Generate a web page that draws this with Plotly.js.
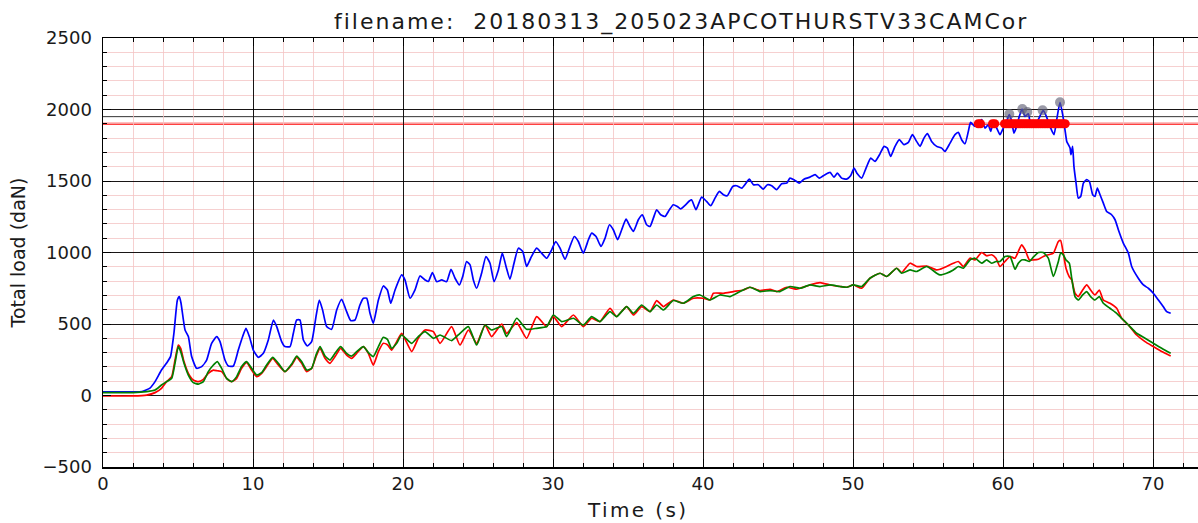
<!DOCTYPE html>
<html>
<head>
<meta charset="utf-8">
<script src="https://cdn.plot.ly/plotly-3.0.1.min.js"></script>
<style>
html, body { margin: 0; padding: 0; background: #ffffff; overflow: hidden; }
#chart { width: 1198px; height: 523px; }
.gtitle { letter-spacing: 2.0px; }
.annotation-text { letter-spacing: 2.4px; }
</style>
</head>
<body>
<div id="chart"></div>
<script>
// ---- data ----
const chartTitle = "filename:\u00a0\u00a020180313_205023APCOTHURSTV33CAMCor";
const xLabel = "Time (s)";
const yLabel = "Total load (daN)";

const blueTime = [0, 1.0, 2.0, 2.6, 3.13, 3.47, 3.9, 4.24, 4.5, 4.73, 4.96, 5.09, 5.2, 5.47, 5.69, 5.91, 6.24, 6.58, 6.91, 7.24, 7.58, 7.8, 8.13, 8.36, 8.69, 9.02, 9.31, 9.53, 9.76, 10.02, 10.36, 10.69, 11.02, 11.36, 11.58, 11.91, 12.13, 12.47, 12.69, 12.91, 13.13, 13.36, 13.62, 13.91, 14.2, 14.42, 14.64, 14.91, 15.24, 15.58, 15.91, 16.2, 16.51, 16.8, 17.13, 17.36, 17.58, 17.8, 18.02, 18.36, 18.69, 18.96, 19.18, 19.47, 19.91, 20.13, 20.47, 20.8, 21.13, 21.47, 21.69, 21.96, 22.24, 22.58, 22.91, 23.2, 23.47, 23.76, 23.98, 24.24, 24.47, 24.69, 24.91, 25.24, 25.53, 25.8, 26.07, 26.36, 26.62, 26.87, 27.13, 27.4, 27.69, 27.98, 28.24, 28.51, 28.91, 29.24, 29.58, 29.91, 30.18, 30.47, 30.8, 31.13, 31.42, 31.69, 32.02, 32.36, 32.58, 32.87, 33.2, 33.47, 33.76, 34.02, 34.31, 34.58, 34.87, 35.13, 35.36, 35.69, 35.96, 36.24, 36.47, 36.69, 36.91, 37.18, 37.47, 37.76, 38.02, 38.29, 38.51, 38.8, 39.09, 39.24, 39.53, 39.91, 40.24, 40.51, 40.8, 41.09, 41.36, 41.62, 41.98, 42.24, 42.58, 42.87, 43.09, 43.36, 43.69, 44.02, 44.29, 44.58, 44.91, 45.24, 45.58, 45.8, 46.13, 46.42, 46.73, 47.13, 47.47, 47.76, 48.13, 48.47, 48.73, 48.96, 49.24, 49.58, 49.84, 50.07, 50.29, 50.58, 50.87, 51.18, 51.47, 51.8, 52.07, 52.29, 52.51, 52.8, 53.09, 53.4, 53.69, 53.96, 54.24, 54.47, 54.73, 54.96, 55.24, 55.58, 55.91, 56.13, 56.47, 56.8, 57.02, 57.24, 57.47, 57.69, 57.84, 58.13, 58.36, 58.58, 58.8, 59.02, 59.18, 59.36, 59.58, 59.8, 60.02, 60.24, 60.42, 60.58, 60.73, 60.91, 61.09, 61.27, 61.47, 61.69, 61.84, 62.02, 62.29, 62.51, 62.69, 62.91, 63.13, 63.4, 63.58, 63.8, 63.98, 64.13, 64.25, 64.36, 64.47, 64.53, 64.64, 64.73, 64.87, 65.02, 65.18, 65.36, 65.58, 65.76, 65.98, 66.13, 66.29, 66.47, 66.69, 66.91, 67.24, 67.47, 67.69, 68.02, 68.36, 68.58, 69.02, 69.36, 69.69, 70.02, 70.36, 70.69, 70.91, 71.18];
const blueLoad = [25, 25, 25, 28, 52, 97, 178, 227, 272, 437, 668, 692, 647, 458, 412, 272, 190, 202, 248, 365, 412, 377, 248, 206, 206, 318, 412, 470, 412, 318, 267, 295, 388, 528, 482, 377, 342, 342, 435, 528, 528, 388, 346, 377, 552, 668, 598, 482, 463, 598, 673, 598, 524, 528, 633, 680, 680, 575, 505, 668, 766, 738, 645, 738, 843, 808, 680, 738, 836, 808, 797, 860, 797, 808, 797, 883, 820, 773, 832, 937, 913, 808, 750, 855, 972, 925, 797, 878, 995, 902, 813, 925, 1030, 1007, 902, 960, 1030, 995, 960, 1019, 1077, 1030, 953, 1042, 1112, 1077, 995, 1089, 1135, 1112, 1042, 1100, 1194, 1159, 1089, 1159, 1233, 1182, 1147, 1229, 1264, 1194, 1182, 1240, 1299, 1264, 1252, 1299, 1334, 1322, 1305, 1330, 1360, 1369, 1299, 1387, 1357, 1327, 1380, 1427, 1404, 1397, 1462, 1467, 1450, 1485, 1513, 1474, 1474, 1443, 1474, 1467, 1439, 1481, 1485, 1520, 1504, 1485, 1513, 1527, 1544, 1520, 1544, 1560, 1527, 1555, 1520, 1513, 1536, 1590, 1550, 1520, 1590, 1660, 1637, 1690, 1742, 1730, 1672, 1742, 1789, 1754, 1770, 1824, 1777, 1742, 1800, 1831, 1777, 1742, 1730, 1707, 1765, 1824, 1840, 1789, 1761, 1847, 1910, 1882, 1905, 1929, 1870, 1893, 1847, 1917, 1870, 1824, 1870, 1917, 1964, 1917, 1835, 1882, 1952, 2003, 1952, 1970, 1893, 1877, 1917, 1964, 1994, 1947, 1882, 1824, 1929, 2050, 1964, 1860, 1777, 1754, 1730, 1684, 1742, 1602, 1485, 1380, 1392, 1485, 1509, 1497, 1404, 1392, 1450, 1404, 1345, 1287, 1264, 1229, 1159, 1066, 995, 902, 820, 773, 750, 715, 668, 621, 586, 575];

const redTime = [0, 2.0, 2.91, 3.47, 3.9, 4.24, 4.58, 4.8, 5.02, 5.18, 5.4, 5.69, 6.02, 6.36, 6.69, 7.02, 7.36, 7.62, 7.91, 8.24, 8.58, 8.91, 9.24, 9.58, 9.91, 10.24, 10.58, 10.91, 11.31, 11.69, 12.13, 12.58, 12.91, 13.24, 13.58, 13.91, 14.2, 14.47, 14.8, 15.13, 15.47, 15.84, 16.24, 16.58, 16.91, 17.36, 17.69, 18.02, 18.36, 18.69, 18.96, 19.24, 19.58, 19.91, 20.58, 21.02, 21.47, 22.02, 22.47, 23.24, 23.8, 24.36, 24.91, 25.47, 25.91, 26.58, 26.91, 27.58, 28.24, 28.91, 29.58, 30.02, 30.58, 31.36, 32.02, 32.58, 33.13, 33.8, 34.24, 34.91, 35.36, 35.91, 36.47, 36.91, 37.36, 38.02, 38.69, 39.36, 40.02, 40.47, 40.69, 41.36, 42.02, 42.69, 43.13, 43.8, 44.47, 44.91, 45.58, 46.24, 46.47, 47.13, 47.8, 48.47, 49.13, 49.58, 50.02, 50.58, 51.13, 51.8, 52.24, 52.91, 53.24, 53.8, 54.24, 54.91, 55.58, 55.8, 56.24, 56.69, 57.02, 57.36, 57.8, 58.13, 58.58, 58.91, 59.24, 59.53, 59.8, 60.13, 60.47, 60.8, 61.02, 61.24, 61.47, 61.76, 62.02, 62.36, 62.69, 63.02, 63.36, 63.69, 63.84, 64.02, 64.2, 64.42, 64.58, 64.8, 65.02, 65.31, 65.58, 65.84, 66.13, 66.42, 66.69, 67.13, 67.58, 67.91, 68.36, 68.91, 69.47, 70.02, 70.58, 71.18];
const redLoad = [-3, -3, 3, 20, 50, 97, 132, 248, 353, 330, 237, 155, 108, 97, 113, 155, 178, 173, 167, 120, 97, 120, 190, 230, 178, 132, 155, 202, 260, 213, 167, 213, 267, 225, 167, 190, 272, 330, 260, 225, 272, 330, 283, 260, 295, 342, 295, 213, 307, 365, 355, 318, 377, 435, 307, 400, 458, 447, 365, 482, 353, 458, 365, 493, 412, 500, 435, 510, 400, 552, 482, 552, 482, 563, 482, 540, 517, 610, 552, 622, 563, 622, 587, 664, 622, 668, 645, 680, 680, 668, 715, 715, 727, 738, 757, 734, 743, 727, 757, 743, 750, 773, 790, 773, 762, 757, 773, 750, 820, 855, 832, 890, 860, 925, 902, 905, 878, 883, 902, 925, 937, 902, 960, 948, 1000, 977, 984, 960, 902, 937, 972, 960, 1007, 1054, 1019, 948, 948, 953, 972, 984, 995, 1077, 1084, 995, 890, 830, 808, 715, 692, 738, 773, 738, 703, 738, 668, 645, 610, 540, 493, 423, 377, 342, 307, 276];

const greenTime = [0, 2.0, 2.91, 3.47, 3.9, 4.24, 4.58, 4.8, 5.02, 5.18, 5.4, 5.69, 6.02, 6.36, 6.69, 7.02, 7.36, 7.62, 7.91, 8.24, 8.58, 8.91, 9.24, 9.58, 9.91, 10.24, 10.58, 10.91, 11.31, 11.69, 12.13, 12.58, 12.91, 13.24, 13.58, 13.91, 14.2, 14.47, 14.8, 15.13, 15.47, 15.84, 16.24, 16.58, 16.91, 17.36, 17.69, 18.02, 18.36, 18.69, 18.96, 19.24, 19.58, 19.91, 20.58, 21.02, 21.47, 22.02, 22.47, 23.24, 23.8, 24.36, 24.91, 25.47, 25.91, 26.58, 26.91, 27.58, 28.24, 28.91, 29.58, 30.02, 30.58, 31.36, 32.02, 32.58, 33.13, 33.8, 34.24, 34.91, 35.36, 35.91, 36.47, 36.91, 37.36, 38.02, 38.69, 39.36, 39.8, 40.47, 41.13, 41.8, 42.47, 43.13, 43.8, 44.47, 45.13, 45.8, 46.47, 47.13, 47.8, 48.47, 49.13, 49.58, 50.02, 50.58, 51.13, 51.8, 52.24, 52.91, 53.24, 53.8, 54.24, 54.91, 55.58, 55.8, 56.24, 56.69, 57.02, 57.36, 57.8, 58.13, 58.58, 58.91, 59.24, 59.53, 59.8, 60.13, 60.47, 60.8, 61.02, 61.24, 61.47, 61.76, 62.02, 62.36, 62.69, 63.02, 63.36, 63.69, 63.84, 64.02, 64.2, 64.42, 64.58, 64.8, 65.02, 65.31, 65.58, 65.84, 66.13, 66.42, 66.69, 67.13, 67.58, 67.91, 68.36, 68.91, 69.47, 70.02, 70.58, 71.18];
const greenLoad = [20, 20, 27, 38, 73, 97, 120, 225, 342, 307, 225, 143, 90, 80, 97, 167, 213, 237, 190, 120, 97, 132, 202, 237, 190, 143, 160, 213, 267, 225, 167, 220, 276, 237, 178, 190, 283, 342, 276, 248, 295, 342, 295, 276, 307, 342, 300, 272, 342, 407, 393, 330, 365, 423, 365, 412, 447, 400, 423, 384, 435, 482, 353, 493, 458, 482, 412, 540, 463, 470, 482, 563, 517, 540, 493, 552, 517, 587, 552, 622, 575, 633, 587, 633, 598, 664, 645, 692, 703, 668, 703, 692, 727, 757, 727, 734, 727, 762, 750, 773, 762, 773, 762, 757, 773, 762, 820, 855, 832, 890, 855, 878, 867, 902, 855, 843, 855, 878, 902, 890, 948, 960, 925, 948, 925, 937, 937, 972, 972, 883, 925, 948, 948, 937, 967, 1000, 1000, 960, 832, 937, 995, 984, 948, 925, 820, 692, 668, 703, 727, 692, 668, 692, 645, 610, 575, 540, 493, 435, 400, 365, 330, 295];

// samples above the 1900 daN threshold, drawn on the threshold level
const exceedTime = [58.35, 58.5, 59.3, 59.45, 60.1, 60.25, 60.4, 60.55, 60.7, 60.85, 61.0, 61.15, 61.3, 61.45, 61.6, 61.75, 61.9, 62.05, 62.2, 62.35, 62.5, 62.65, 62.8, 62.95, 63.1, 63.25, 63.4, 63.55, 63.7, 63.85, 64.0, 64.15];
const exceedLoad = [1900, 1900, 1900, 1900, 1900, 1900, 1900, 1900, 1900, 1900, 1900, 1900, 1900, 1900, 1900, 1900, 1900, 1900, 1900, 1900, 1900, 1900, 1900, 1900, 1900, 1900, 1900, 1900, 1900, 1900, 1900, 1900];

// detected peaks
const peakTime = [60.42, 61.29, 61.62, 62.64, 63.8];
const peakLoad = [1968, 2003, 1982, 1994, 2050];

// horizontal reference levels
const thresholdLevel = 1900;
const secondLevel = 1950;

const xTicks = [0, 10, 20, 30, 40, 50, 60, 70];
const yTicks = [-500, 0, 500, 1000, 1500, 2000, 2500];

// ---- figure ----
const font = "DejaVu Sans, sans-serif";
const textColor = "#1a1a1a";
const pink = "#f4c4c4";

const lineStyle = (c) => ({ color: c, width: 1.7, shape: "spline", smoothing: 0.5 });

const traces = [
  { x: blueTime, y: blueLoad, type: "scatter", mode: "lines",
    line: lineStyle("#0000ff"), hoverinfo: "skip" },
  { x: redTime, y: redLoad, type: "scatter", mode: "lines",
    line: lineStyle("#ff0000"), hoverinfo: "skip" },
  { x: greenTime, y: greenLoad, type: "scatter", mode: "lines",
    line: lineStyle("#008000"), hoverinfo: "skip" },
  { x: exceedTime, y: exceedLoad, type: "scatter", mode: "markers",
    marker: { color: "#ff0000", size: 9, line: { width: 0 } }, hoverinfo: "skip" },
  { x: peakTime, y: peakLoad, type: "scatter", mode: "markers",
    marker: { color: "rgba(100,100,120,0.65)", size: 10, line: { width: 0 } }, hoverinfo: "skip" }
];

const layout = {
  width: 1198, height: 523,
  margin: { l: 103, r: 0, t: 38, b: 56, pad: 0 },
  paper_bgcolor: "#ffffff", plot_bgcolor: "#ffffff",
  showlegend: false,
  font: { family: font, color: textColor, size: 18 },
  title: {
    text: chartTitle,
    font: { family: font, size: 22, color: textColor },
    x: 0.528, xref: "paper", xanchor: "center",
    y: 1 - 21 / 523, yref: "container", yanchor: "middle"
  },
  annotations: [
    { text: xLabel, xref: "paper", x: 0.4886, xanchor: "center",
      yref: "paper", y: -(510 - 467) / 429, yanchor: "middle",
      showarrow: false, font: { family: font, size: 20, color: textColor } }
  ],
  xaxis: {
    range: [0, 73], tickvals: xTicks, ticktext: xTicks.map(String),
    ticks: "inside", ticklen: 8, tickwidth: 1, tickcolor: "#000",
    showline: true, linecolor: "#000", linewidth: 1.5, mirror: "allticks",
    showgrid: true, gridcolor: "#000", gridwidth: 0.9, zeroline: false,
    minor: { dtick: 2, tick0: 0, ticks: "inside", ticklen: 4, tickcolor: "#000",
             showgrid: true, gridcolor: pink, gridwidth: 0.8 },
    tickfont: { family: font, size: 18, color: textColor },
    ticklabelstandoff: 0,
    automargin: false
  },
  yaxis: {
    range: [-500, 2500], tickvals: yTicks, ticktext: yTicks.map(v => v < 0 ? "\u2212" + Math.abs(v) : String(v)),
    ticks: "inside", ticklen: 8, tickwidth: 1, tickcolor: "#000",
    showline: true, linecolor: "#000", linewidth: 1.5, mirror: false,
    showgrid: true, gridcolor: "#000", gridwidth: 0.9, zeroline: false,
    minor: { dtick: 100, tick0: 0, ticks: "inside", ticklen: 4, tickcolor: "#000",
             showgrid: true, gridcolor: pink, gridwidth: 0.8 },
    tickfont: { family: font, size: 18, color: textColor },
    ticklabelstandoff: 6,
    automargin: false,
    title: { text: yLabel, font: { family: font, size: 19, color: textColor }, standoff: 12 }
  },
  shapes: [
    { type: "line", xref: "paper", x0: 0, x1: 1, yref: "y", y0: secondLevel, y1: secondLevel,
      line: { color: "#333", width: 1 }, layer: "below" },
    { type: "line", xref: "paper", x0: 0, x1: 1, yref: "y", y0: thresholdLevel, y1: thresholdLevel,
      line: { color: "#ff0000", width: 2 }, layer: "below" }
  ]
};

Plotly.newPlot("chart", traces, layout, { staticPlot: true, displayModeBar: false });
</script>
</body>
</html>
